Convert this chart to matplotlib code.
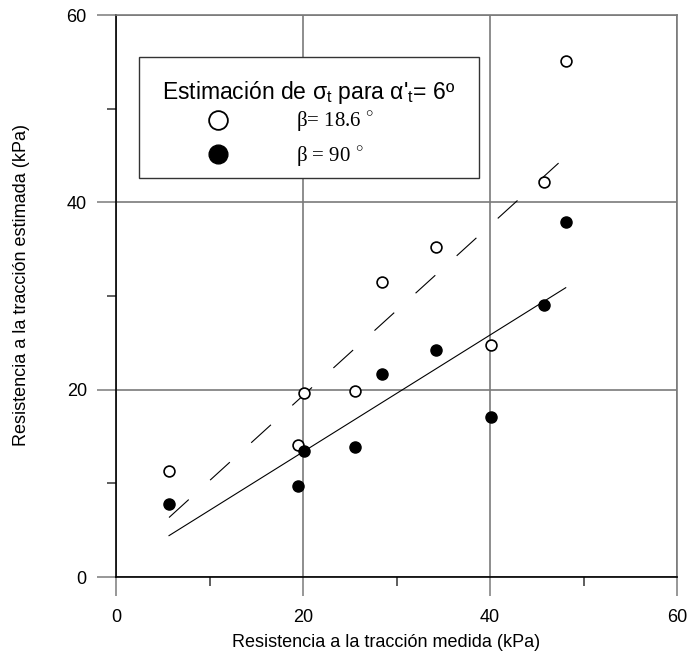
import numpy as np
import matplotlib
matplotlib.use("Agg")
import matplotlib.pyplot as plt
from matplotlib.lines import Line2D
from matplotlib.patches import Rectangle
from matplotlib.ticker import MultipleLocator

# ---- data ----
x_medida = [5.67, 19.47, 20.1, 25.56, 28.45, 34.2, 40.1, 45.8, 48.1]
y_beta186 = [11.3, 14.1, 19.6, 19.9, 31.5, 35.2, 24.8, 42.2, 55.1]
x_medida_90 = [5.67, 19.47, 20.1, 25.56, 28.45, 34.2, 40.1, 45.8, 48.1]
y_beta90 = [7.8, 9.7, 13.45, 13.9, 21.7, 24.2, 17.1, 29.0, 37.9]
ticks = [0, 20, 40, 60]
tick_labels = ["0", "20", "40", "60"]
series_labels = ["β= 18.6 $^{\\circ}$", "β = 90 $^{\\circ}$"]
legend_title = "Estimación de σ$_\\mathregular{t}$ para α$'_\\mathregular{t}$= 6º"

plt.rcParams['font.family'] = ['Liberation Sans', 'DejaVu Sans']
plt.rcParams['mathtext.fontset'] = 'custom'
plt.rcParams['mathtext.rm'] = 'Liberation Sans'

W, H = 689, 660
fig = plt.figure(figsize=(W/100, H/100), dpi=100)
L, R, T, B = 116, 677, 15, 577
ax = fig.add_axes([L/W, 1-B/H, (R-L)/W, (B-T)/H])
ax.set_xlim(0, 60)
ax.set_ylim(0, 60)

def axfx(px):
    return (px - L) / (R - L)

def axfy(py):
    return (B - py) / (B - T)

gridc = '#7a7a7a'
ax.set_xticks(ticks)
ax.set_xticklabels(tick_labels)
ax.set_yticks(ticks)
ax.set_yticklabels(tick_labels)
ax.xaxis.set_minor_locator(MultipleLocator(10))
ax.yaxis.set_minor_locator(MultipleLocator(10))
ax.tick_params(which='major', direction='out', length=14, width=1.1, color=gridc,
               labelsize=13)
ax.tick_params(axis='x', which='major', pad=9)
ax.tick_params(axis='y', which='major', pad=7)
ax.tick_params(which='minor', direction='out', length=6.5, width=1.1, color='#333333')
ax.grid(True, which='major', color=gridc, linewidth=1.2)
for s in ['top', 'right']:
    ax.spines[s].set_color(gridc)
    ax.spines[s].set_linewidth(1.2)
for s in ['left', 'bottom']:
    ax.spines[s].set_color('black')
    ax.spines[s].set_linewidth(1.2)
ax.set_axisbelow(True)

# regression lines
xa = np.array(x_medida)
xr = np.array([xa.min(), xa.max()])
p1 = np.polyfit(xa, np.array(y_beta186), 1)
p2 = np.polyfit(np.array(x_medida_90), np.array(y_beta90), 1)
ax.plot(xr, np.polyval(p1, xr), color='black', lw=0.8, linestyle=(0, (24, 26)), zorder=3)
ax.plot(xr, np.polyval(p2, xr), color='black', lw=0.8, zorder=3)

ax.plot(x_medida, y_beta186, linestyle='none', marker='o', ms=7.8, mfc='white',
        mec='black', mew=1.2, zorder=4)
ax.plot(x_medida_90, y_beta90, linestyle='none', marker='o', ms=8.0, mfc='black',
        mec='black', mew=1.0, zorder=4)

ax.set_xlabel("Resistencia a la tracción medida (kPa)", fontsize=13)
ax.xaxis.set_label_coords(axfx(386.5), axfy(634))
ax.set_ylabel("Resistencia a la tracción estimada (kPa)", fontsize=13, va='center')
ax.yaxis.set_label_coords(axfx(22), axfy(285))

# legend box + title
ax.add_patch(Rectangle((axfx(139), axfy(178)), axfx(479) - axfx(139), axfy(57) - axfy(178),
                       transform=ax.transAxes, facecolor='white', edgecolor='#333333',
                       linewidth=1.0, zorder=5))
ax.text(axfx(309), axfy(93), legend_title, transform=ax.transAxes, ha='center', va='center',
        fontsize=16.5, zorder=6)

h1 = Line2D([], [], linestyle='none', marker='o', ms=13.5, mfc='white', mec='black', mew=1.3)
h2 = Line2D([], [], linestyle='none', marker='o', ms=13.5, mfc='black', mec='black')
leg = ax.legend([h1, h2], series_labels,
                loc='upper left', bbox_to_anchor=(axfx(197), axfy(110)),
                frameon=False,
                prop={'family': ['Liberation Serif', 'DejaVu Serif'], 'size': 15},
                handlelength=2.0, handletextpad=2.75, labelspacing=0.48, borderpad=0,
                borderaxespad=0)
leg.set_zorder(7)

fig.savefig("out.png", dpi=100)
